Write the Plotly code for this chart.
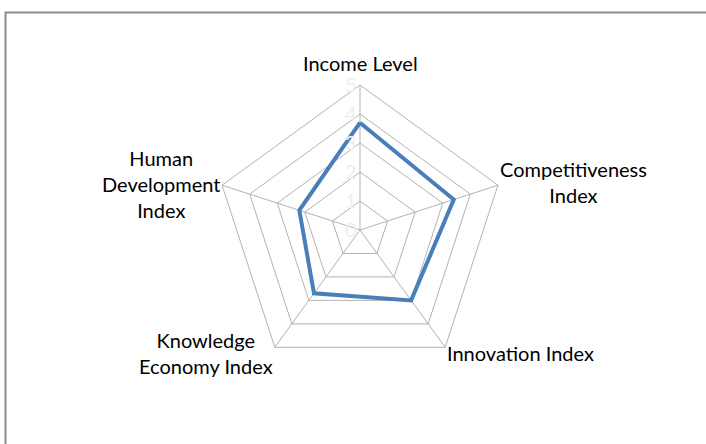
import math
import plotly.graph_objects as go

categorias = ["Income Level", "Competitiveness Index", "Innovation Index",
              "Knowledge Economy Index", "Human Development Index"]
rotulos = ["Income Level", "Competitiveness<br>Index", "Innovation Index",
           "Knowledge<br>Economy Index", "Human<br>Development<br>Index"]
valores = [3.7, 3.4, 3.0, 2.7, 2.2]
escala_ticks = [0, 1, 2, 3, 4, 5]

fig = go.Figure()
fig.add_trace(go.Scatterpolar(
    r=valores + valores[:1],
    theta=categorias + categorias[:1],
    mode="lines",
    line=dict(color="#4a7ebb", width=4),
    showlegend=False,
))

cx, cy, rad = 360, 230, 145
W, H = 706, 444
fig.update_layout(
    width=W, height=H,
    margin=dict(l=0, r=0, t=0, b=0),
    paper_bgcolor="white",
    font=dict(family="Lato", size=20, color="#000000"),
    polar=dict(
        domain=dict(x=[(cx - rad) / W, (cx + rad) / W],
                    y=[(H - cy - rad) / H, (H - cy + rad) / H]),
        bgcolor="white",
        gridshape="linear",
        radialaxis=dict(range=[0, 5], tickvals=escala_ticks, angle=90,
                        side="counterclockwise", tickangle=90,
                        tickfont=dict(color="#eeeeee", size=20),
                        showline=False, gridcolor="#b3b3b3", gridwidth=1,
                        ticks=""),
        angularaxis=dict(rotation=90, direction="clockwise",
                         linecolor="#b3b3b3", gridcolor="#b3b3b3",
                         ticks="", showticklabels=False),
    ),
)

# rótulos das categorias, posicionados junto aos vértices
ajuste_y = [8, 3, -6, -6, 1]
for i, txt in enumerate(rotulos):
    ang = math.radians(72 * i)
    vx = (cx + rad * math.sin(ang)) / W
    vy = (H - cy + rad * math.cos(ang)) / H
    if i == 0:
        xa, ya = "center", "bottom"
    elif i in (1, 2):
        xa, ya = "left", "middle"
    else:
        xa, ya = "right", "middle"
    fig.add_annotation(x=vx, y=vy, xref="paper", yref="paper", text=txt,
                       showarrow=False, xanchor=xa, yanchor=ya, align="center",
                       yshift=ajuste_y[i], font=dict(size=20))

# moldura do gráfico
fig.add_shape(type="rect", xref="paper", yref="paper",
              x0=5.5 / W, x1=1.05, y0=-0.05, y1=1 - 12.5 / H,
              line=dict(color="#8c8c8c", width=2))

fig.write_html("out.html", config={"displayModeBar": False},
               post_script="document.body.style.margin='0';")
